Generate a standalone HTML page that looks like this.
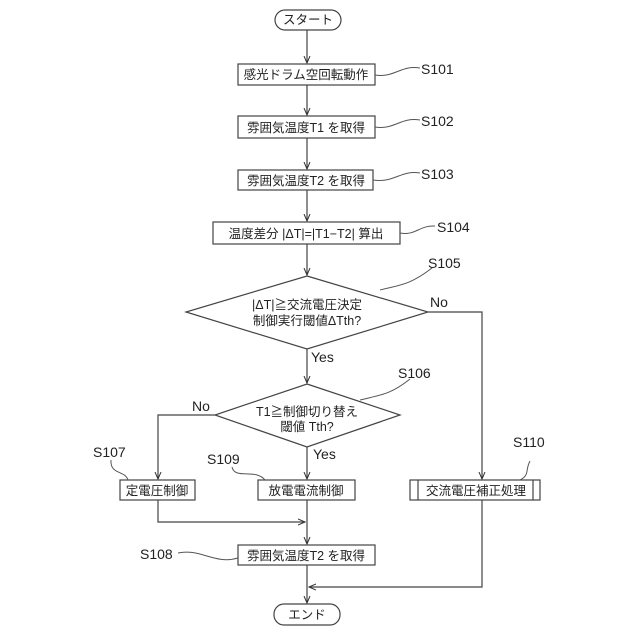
<!DOCTYPE html>
<html><head><meta charset="utf-8"><style>
html,body{margin:0;padding:0;background:#fff;}
svg{display:block;}
text{font-family:"Liberation Sans","Noto Sans CJK JP",sans-serif;fill:#222;}
.b{font-size:12.5px;}
.l{font-size:14px;}
</style></head><body>
<svg width="640" height="640" viewBox="0 0 640 640" xmlns="http://www.w3.org/2000/svg">
<defs><marker id="a" markerWidth="8" markerHeight="8" refX="7" refY="4" orient="auto" markerUnits="userSpaceOnUse"><path d="M0,1 L7,4 L0,7" fill="none" stroke="#333" stroke-width="1"/></marker></defs>
<g stroke="#444" stroke-width="1.2" fill="none">
<rect x="275" y="10" width="66" height="20" rx="10"/>
<line x1="307" y1="30" x2="307" y2="63" marker-end="url(#a)"/>
<rect x="238" y="64" width="137" height="21"/>
<line x1="307" y1="85" x2="307" y2="115" marker-end="url(#a)"/>
<rect x="238" y="116" width="137" height="22"/>
<line x1="307" y1="138" x2="307" y2="169" marker-end="url(#a)"/>
<rect x="238" y="170" width="135" height="20"/>
<line x1="307" y1="190" x2="307" y2="221" marker-end="url(#a)"/>
<rect x="213" y="222" width="187" height="22"/>
<line x1="307" y1="244" x2="307" y2="275" marker-end="url(#a)"/>
<polygon points="307,276 428,312 307,349 186,312"/>
<line x1="307" y1="349" x2="307" y2="383" marker-end="url(#a)"/>
<polyline points="428,312 482,312 482,479" marker-end="url(#a)"/>
<polygon points="307,384 400,415 307,447 215,415"/>
<polyline points="215,415 158,415 158,479" marker-end="url(#a)"/>
<line x1="307" y1="447" x2="307" y2="479" marker-end="url(#a)"/>
<rect x="120" y="480" width="75" height="20"/>
<rect x="258" y="480" width="97" height="20"/>
<rect x="410" y="480" width="130" height="20"/>
<line x1="418" y1="480" x2="418" y2="500"/>
<line x1="533" y1="480" x2="533" y2="500"/>
<polyline points="158,500 158,522 305,522" marker-end="url(#a)"/>
<line x1="307" y1="500" x2="307" y2="544" marker-end="url(#a)"/>
<rect x="238" y="545" width="137" height="20"/>
<polyline points="482,500 482,587 309,587" marker-end="url(#a)"/>
<line x1="307" y1="565" x2="307" y2="603" marker-end="url(#a)"/>
<rect x="274" y="604" width="66" height="21" rx="10"/>
</g>
<g stroke="#555" stroke-width="1" fill="none">
<path d="M375,75 C395,78 400,65 420,68"/>
<path d="M375,127 C395,130 400,117 420,120"/>
<path d="M373,180 C395,183 400,170 420,173"/>
<path d="M400,233 C415,236 420,225 435,226"/>
<path d="M380,290 C400,285 410,285 432,268"/>
<path d="M360,400 C380,395 390,395 410,379"/>
<path d="M111,460 C110,475 125,470 128,480"/>
<path d="M232,467 C235,480 255,468 265,480"/>
<path d="M530,461 C525,470 530,475 520,480"/>
<path d="M178,553 C200,548 215,565 238,558"/>
</g>
<text class="b" x="308" y="24" text-anchor="middle">スタート</text>
<text class="b" x="306" y="79" text-anchor="middle">感光ドラム空回転動作</text>
<text class="b" x="306" y="132" text-anchor="middle">雰囲気温度T1 を取得</text>
<text class="b" x="306" y="185" text-anchor="middle">雰囲気温度T2 を取得</text>
<text class="b" x="306" y="238" text-anchor="middle">温度差分 |ΔT|=|T1−T2| 算出</text>
<text class="b" x="307" y="309" text-anchor="middle">|ΔT|≧交流電圧決定</text>
<text class="b" x="307" y="325" text-anchor="middle">制御実行閾値ΔTth?</text>
<text class="b" x="307" y="416" text-anchor="middle">T1≧制御切り替え</text>
<text class="b" x="307" y="431" text-anchor="middle">閾値 Tth?</text>
<text class="b" x="157" y="495" text-anchor="middle">定電圧制御</text>
<text class="b" x="306" y="495" text-anchor="middle">放電電流制御</text>
<text class="b" x="476" y="495" text-anchor="middle">交流電圧補正処理</text>
<text class="b" x="306" y="560" text-anchor="middle">雰囲気温度T2 を取得</text>
<text class="b" x="307" y="619" text-anchor="middle">エンド</text>
<text class="l" x="421" y="74">S101</text>
<text class="l" x="421" y="126">S102</text>
<text class="l" x="421" y="179">S103</text>
<text class="l" x="437" y="232">S104</text>
<text class="l" x="428" y="268">S105</text>
<text class="l" x="430" y="307">No</text>
<text class="l" x="311" y="362">Yes</text>
<text class="l" x="398" y="378">S106</text>
<text class="l" x="192" y="411">No</text>
<text class="l" x="313" y="459">Yes</text>
<text class="l" x="93" y="457">S107</text>
<text class="l" x="207" y="464">S109</text>
<text class="l" x="513" y="447">S110</text>
<text class="l" x="140" y="559">S108</text>
</svg>
</body></html>
